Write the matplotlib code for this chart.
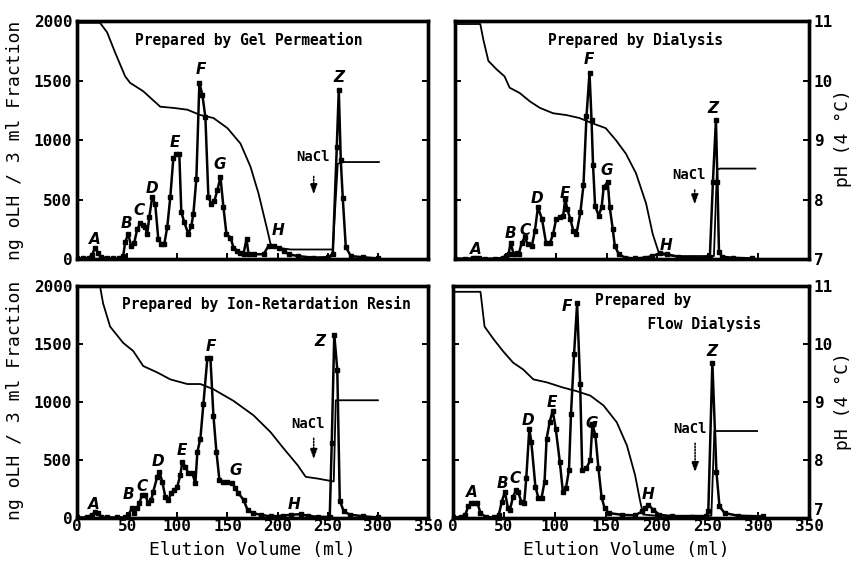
import numpy as np
import matplotlib
matplotlib.use("Agg")
import matplotlib.pyplot as plt

# ===============================
# DATA
# ===============================

# --- Gel permeation (top left) ---
gel_ml = [0, 6, 12, 15, 18, 21, 24, 30, 36, 42, 46, 48, 51, 54, 57, 60, 63, 66, 68, 70,
          72, 75, 78, 81, 84, 87, 90, 93, 96, 99, 102, 104, 107, 111, 114, 116, 119, 122,
          125, 128, 131, 134, 137, 140, 143, 146, 149, 153, 156, 160, 163, 166, 169, 171,
          176, 186, 191, 196, 201, 206, 211, 220, 235, 250, 255, 259, 261, 263, 265, 268,
          273, 285, 300]
gel_olh = [5, 5, 10, 35, 95, 50, 15, 8, 5, 5, 25, 140, 210, 110, 135, 250, 300, 290, 265, 210,
           350, 520, 460, 170, 125, 125, 270, 520, 845, 880, 880, 393, 308, 209, 280, 379, 675, 1480,
           1380, 1190, 520, 463, 490, 580, 690, 435, 209, 180, 96, 68, 54, 45, 167, 45,
           40, 40, 110, 110, 96, 68, 40, 25, 12, 15, 40, 940, 1420, 830, 510, 100,
           25, 15, 5]
gel_ph_ml = [0, 23, 26, 30, 38, 48, 53, 66, 83, 96, 110, 123, 136, 150, 163, 173, 181,
             190, 193, 200, 213, 255, 260, 265, 301]
gel_ph = [10.97, 10.97, 10.9, 10.81, 10.47, 10.07, 9.96, 9.82, 9.56, 9.54, 9.51, 9.42, 9.37,
          9.2, 8.94, 8.55, 8.1, 7.47, 7.25, 7.19, 7.16, 7.16, 8.6, 8.63, 8.63]

# --- Dialysis (top right) ---
dia_ml = [0, 10, 18, 21, 24, 30, 40, 47, 50, 53, 55, 58, 61, 63, 66, 69, 72, 76, 79, 82,
          86, 90, 94, 97, 100, 104, 107, 109, 111, 114, 117, 120, 124, 127, 130, 133, 135,
          136.5, 138.5, 142, 145, 147, 151, 153, 156, 158, 162, 168, 178, 188, 195, 203,
          210, 220, 235, 250, 252, 255, 258, 259.5, 261, 264, 275, 294]
dia_olh = [3, 3, 5, 10, 5, 3, 3, 10, 25, 40, 138, 40, 54, 40, 138, 181, 124, 110, 237, 435,
           336, 138, 138, 209, 336, 350, 365, 506, 421, 336, 237, 209, 393, 619, 1198, 1565, 1169,
           787, 449, 365, 435, 605, 647, 435, 251, 110, 40, 12, 5, 12, 25, 50,
           40, 20, 10, 15, 20, 647, 1170, 647, 60, 20, 10, 5]
dia_ph_ml = [0, 25, 28, 33, 41, 49, 54, 64, 74, 84, 97, 110, 123, 136, 149, 159, 169, 179,
             189, 195.5, 202, 218, 256, 259, 262, 297]
dia_ph = [10.95, 10.95, 10.69, 10.33, 10.19, 10.07, 9.88, 9.79, 9.65, 9.54, 9.45, 9.42, 9.37,
          9.28, 9.2, 9.0, 8.77, 8.44, 7.93, 7.42, 7.08, 7.05, 7.05, 8.5, 8.52, 8.52]

# --- Ion-retardation resin (bottom left) ---
ion_ml = [0, 10, 15, 18, 21, 24, 30, 40, 48, 51, 55, 57, 60, 62, 65, 68, 71, 74, 76, 80,
          82, 85, 88, 91, 94, 97, 100, 103, 105, 108, 111, 115, 118, 120, 123, 126, 130, 133,
          136, 139, 142, 146, 150, 155, 158, 161, 166, 170, 175, 183, 193, 205, 213, 223,
          230, 240, 252, 254, 256.5, 259.5, 262, 266, 272, 285, 300]
ion_olh = [5, 5, 30, 50, 45, 10, 5, 5, 5, 28, 85, 43, 85, 128, 199, 199, 128, 157, 228, 356,
           399, 313, 185, 157, 214, 242, 271, 370, 484, 442, 385, 385, 299, 570, 684, 983, 1382, 1382,
           883, 570, 328, 313, 313, 299, 256, 214, 157, 71, 43, 28, 14, 20, 28, 33,
           20, 10, 10, 650, 1580, 1280, 150, 57, 30, 15, 5]
ion_ph_ml = [0, 23, 26, 33, 46, 56, 66, 80, 93, 110, 123, 136, 156, 176, 193, 206, 220, 228,
             240, 256, 258, 261, 300]
ion_ph = [10.99, 10.99, 10.7, 10.3, 10.02, 9.88, 9.62, 9.51, 9.39, 9.31, 9.31, 9.22, 9.02,
          8.77, 8.48, 8.2, 7.91, 7.71, 7.68, 7.63, 9.03, 9.03, 9.03]

# --- Flow dialysis (bottom right) ---
flow_ml = [0, 8, 12, 15, 18, 21, 24, 27, 32, 40, 44, 45, 48, 51, 54, 56, 59, 62, 64, 67,
           70, 72, 75, 77, 81, 84, 87, 90, 92, 95, 98, 101, 105, 108, 111, 114, 116, 119, 122,
           125, 127, 131, 135, 137, 140, 143, 146, 149, 153, 166, 179, 186, 189, 192, 197,
           203, 215, 235, 249, 251, 255, 259, 262, 267, 280, 305]
flow_olh = [5, 10, 28, 100, 128, 128, 128, 43, 10, 5, 10, 28, 142, 228, 85, 71, 185, 242, 228, 142,
            128, 342, 769, 655, 270, 171, 171, 313, 684, 826, 926, 769, 484, 228, 256, 413, 897, 1410, 1850,
            1154, 413, 427, 499, 812, 712, 427, 185, 85, 43, 28, 23, 57, 85, 114, 71,
            28, 15, 10, 15, 57, 1339, 399, 100, 43, 20, 14]
flow_ph_ml = [0, 27, 31, 40, 49, 59, 69, 79, 92, 108, 121, 135, 148, 161, 171, 179, 184, 187,
              200, 254, 257, 262, 299]
flow_ph = [10.9, 10.9, 10.3, 10.08, 9.88, 9.68, 9.56, 9.39, 9.34, 9.25, 9.19, 9.11, 8.94, 8.65,
           8.25, 7.74, 7.29, 7.06, 7.04, 7.04, 8.5, 8.5, 8.5]

# peak letters: (letter, ml, ng)
gel_peaks = [("A", 18, 166), ("B", 49, 299), ("C", 62, 406), ("D", 75, 596), ("E", 98, 977),
             ("F", 123, 1593), ("G", 142, 797), ("H", 200, 237), ("Z", 261, 1522)]
dia_peaks = [("A", 21, 82), ("B", 55, 218), ("C", 69, 237), ("D", 81, 506), ("E", 109, 548),
             ("F", 132, 1678), ("G", 150, 746), ("H", 209, 110), ("Z", 255, 1268)]
ion_peaks = [("A", 17, 120), ("B", 51, 200), ("C", 65, 271), ("D", 81, 490), ("E", 105, 584),
             ("F", 133, 1482), ("G", 158, 413), ("H", 216, 120), ("Z", 242, 1524)]
flow_peaks = [("A", 19, 222), ("B", 49, 299), ("C", 61, 342), ("D", 74, 840), ("E", 97, 997),
              ("F", 112, 1823), ("G", 136, 812), ("H", 192, 200), ("Z", 255, 1439)]

# NaCl marker: (text ml, text ng, arrow ml, arrow top, arrow bottom)
gel_nacl = (235, 858, 236, 718, 520)
dia_nacl = (231, 703, 237, 604, 435)
ion_nacl = (230, 812, 236, 712, 484)
flow_nacl = (233, 769, 238, 669, 370)

titles = ["Prepared by Gel Permeation", "Prepared by Dialysis",
          "Prepared by Ion-Retardation Resin", "Prepared by\n      Flow Dialysis"]

# ===============================
# PLOTTING
# ===============================

MONO = "DejaVu Sans Mono"
fig = plt.figure(figsize=(8.53, 5.61), dpi=100)


def draw_panel(rect, ml, olh, ph_ml, ph, peaks, nacl, title, title_pos,
               left_labels, right_labels, bottom_labels):
    ax = fig.add_axes(rect)
    ax2 = ax.twinx()

    ax.plot(ml, olh, color="black", lw=1.8, marker="s", ms=3.2, zorder=3)
    ax2.plot(ph_ml, ph, color="black", lw=1.3)

    ax.set_xlim(0, 350)
    ax.set_ylim(0, 2000)
    ax2.set_ylim(7, 11)
    ax.set_xticks(np.arange(0, 351, 50))
    ax.set_yticks([0, 500, 1000, 1500, 2000])
    ax2.set_yticks([7, 8, 9, 10, 11])

    for a in (ax, ax2):
        for s in a.spines.values():
            s.set_linewidth(2.4)
        a.tick_params(direction="in", length=4, width=1.4)

    ax.tick_params(labelleft=left_labels, labelbottom=bottom_labels)
    ax2.tick_params(labelright=right_labels)
    for lab in ax.get_xticklabels() + ax.get_yticklabels() + ax2.get_yticklabels():
        lab.set_fontfamily(MONO)
        lab.set_fontweight("bold")
        lab.set_fontsize(11.5)
    ax.tick_params(axis="y", pad=3.5)
    ax.tick_params(axis="x", pad=1)
    ax2.tick_params(axis="y", pad=3.5)
    if right_labels and bottom_labels:
        # keep the pH "7" clear of the "350" below it
        ax2.get_yticklabels()[0].set_verticalalignment("bottom")

    for letter, x, y in peaks:
        ax.text(x, y, letter, ha="center", va="center", fontsize=11,
                fontstyle="italic", fontweight="bold")

    tx, ty, axx, a0, a1 = nacl
    ax.text(tx, ty, "NaCl", ha="center", va="center", fontsize=10,
            family=MONO, fontweight="bold")
    ax.annotate("", xy=(axx, a1), xytext=(axx, a0),
                arrowprops=dict(arrowstyle="-|>,head_width=0.22,head_length=0.6",
                                color="black", lw=1.1, linestyle=(0, (1, 1))))

    ax.text(title_pos[0], title_pos[1], title, ha="left", va="top", fontsize=10.5,
            family=MONO, fontweight="bold", linespacing=1.6)
    return ax


draw_panel([0.0903, 0.5383, 0.4115, 0.4242], gel_ml, gel_olh, gel_ph_ml, gel_ph,
           gel_peaks, gel_nacl, titles[0], (58, 1910), True, False, False)
draw_panel([0.5334, 0.5383, 0.4150, 0.4242], dia_ml, dia_olh, dia_ph_ml, dia_ph,
           dia_peaks, dia_nacl, titles[1], (92, 1910), False, True, False)
draw_panel([0.0903, 0.0766, 0.4115, 0.4136], ion_ml, ion_olh, ion_ph_ml, ion_ph,
           ion_peaks, ion_nacl, titles[2], (45, 1910), True, False, True)
draw_panel([0.5311, 0.0766, 0.4173, 0.4136], flow_ml, flow_olh, flow_ph_ml, flow_ph,
           flow_peaks, flow_nacl, titles[3], (140, 1940), False, True, True)

# axis titles
for yc in (0.749, 0.287):
    fig.text(0.018, yc, "ng oLH / 3 ml Fraction", rotation=90, ha="center", va="center",
             family=MONO, fontsize=13)
for yc in (0.754, 0.285):
    fig.text(0.988, yc, "pH (4 °C)", rotation=90, ha="center", va="center",
             family=MONO, fontsize=13)
for xc in (0.296, 0.734):
    fig.text(xc, 0.02, "Elution Volume (ml)", ha="center", va="center",
             family=MONO, fontsize=13)

fig.savefig("out.png", dpi=100)
